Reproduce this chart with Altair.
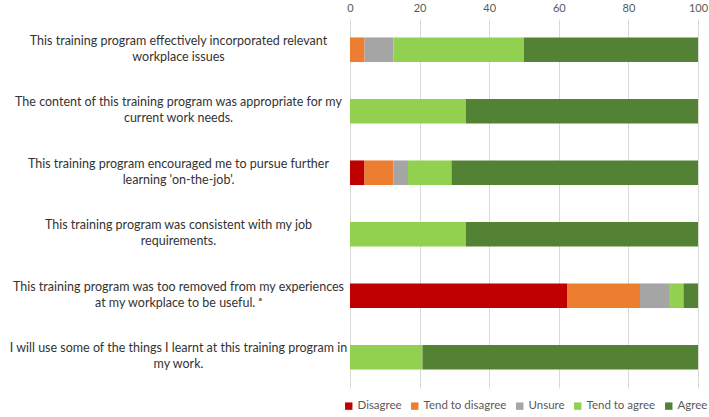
import altair as alt
import pandas as pd

questions = [
    "This training program effectively incorporated relevant|workplace issues",
    "The content of this training program was appropriate for my|current work needs.",
    "This training program encouraged me to pursue further|learning 'on-the-job'.",
    "This training program was consistent with my job|requirements.",
    "This training program was too removed from my experiences|at my workplace to be useful. ᵃ",
    "I will use some of the things I learnt at this training program in|my work.",
]
categories = ["Disagree", "Tend to disagree", "Unsure", "Tend to agree", "Agree"]
colors = ["#C00000", "#ED7D31", "#A5A5A5", "#92D050", "#548235"]

disagree = [0, 0, 4.17, 0, 62.5, 0]
tend_disagree = [4.17, 0, 8.33, 0, 20.83, 0]
unsure = [8.33, 0, 4.17, 0, 8.33, 0]
tend_agree = [37.5, 33.33, 12.5, 33.33, 4.17, 20.83]
agree = [50, 66.67, 70.83, 66.67, 4.17, 79.17]

series = [disagree, tend_disagree, unsure, tend_agree, agree]
rows = []
for ci, (cat, vals) in enumerate(zip(categories, series)):
    for q, v in zip(questions, vals):
        rows.append({"question": q, "response": cat, "value": v, "order": ci})
df = pd.DataFrame(rows)

font = "Lato"

chart = alt.Chart(df).mark_bar().encode(
    x=alt.X(
        "value:Q",
        stack="zero",
        scale=alt.Scale(domain=[0, 100], nice=False),
        axis=alt.Axis(
            orient="top", values=[0, 20, 40, 60, 80, 100], title=None,
            domain=False, ticks=False, grid=True, gridColor="#D9D9D9",
            labelColor="#595959", labelFont=font, labelFontSize=11,
            labelPadding=6, labelFlush=False,
        ),
    ),
    y=alt.Y(
        "question:N",
        sort=questions,
        scale=alt.Scale(paddingInner=0.6, paddingOuter=0.3),
        axis=alt.Axis(
            title=None, domain=False, ticks=False,
            labelExpr="split(datum.label, '|')",
            labelAlign="center", labelPadding=172, labelOffset=-9,
            labelFont=font, labelFontSize=12.5, labelColor="#333333",
            labelLineHeight=16, labelLimit=400,
        ),
    ),
    color=alt.Color(
        "response:N",
        scale=alt.Scale(domain=categories, range=colors),
        legend=alt.Legend(
            title=None, orient="none", direction="horizontal",
            legendX=-7, legendY=381, symbolType="square", symbolSize=55,
            symbolStrokeWidth=0, labelFont=font, labelFontSize=11.5,
            labelColor="#595959", columnPadding=7, labelOffset=3,
        ),
    ),
    order=alt.Order("order:Q"),
).properties(
    width=348,
    height=369,
    autosize=alt.AutoSizeParams(type="none"),
    padding={"left": 350, "top": 19, "right": 11, "bottom": 29},
).configure_view(stroke=None)

chart.save("out.html", embed_options={"renderer": "svg", "actions": False})
